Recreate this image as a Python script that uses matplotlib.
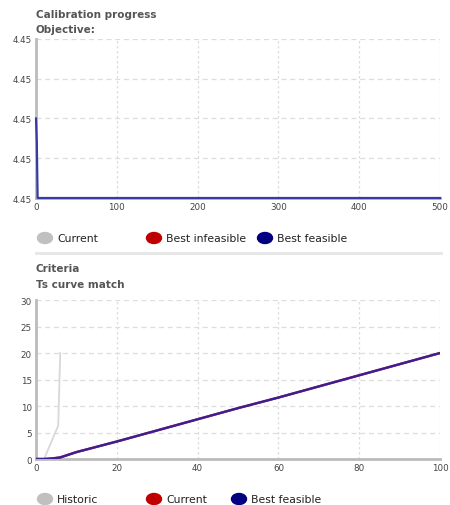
import matplotlib.pyplot as plt
from matplotlib.lines import Line2D
from matplotlib.patches import Ellipse
from matplotlib.ticker import FormatStrFormatter

# --- data ---
obj_iter = [0, 1, 2, 500]
obj_best_feasible = [4.4502, 4.45014, 4.4500, 4.4500]
obj_yticks = [4.4500, 4.4501, 4.4502, 4.4503, 4.4504]
obj_xticks = [0, 100, 200, 300, 400, 500]

hist_x = [2, 5.5, 6]
hist_y = [0, 6.3, 20]

crit_x = [0, 2, 4, 6, 8, 10, 15, 20, 30, 40, 50, 60, 70, 80, 90, 100]
crit_current = [0, 0, 0.1, 0.3, 0.8, 1.3, 2.3, 3.3, 5.4, 7.5, 9.6, 11.6, 13.7, 15.8, 17.9, 20]
crit_best_feasible = crit_current
crit_xticks = [0, 20, 40, 60, 80, 100]
crit_yticks = [0, 5, 10, 15, 20, 25, 30]

GRAY = "#c0c0c0"
RED = "#c00000"
NAVY = "#000080"
TXT = "#555555"

fig = plt.figure(figsize=(4.5, 5.06), dpi=100)


def style_axes(ax):
    for s in ["top", "right"]:
        ax.spines[s].set_visible(False)
    for s in ["left", "bottom"]:
        ax.spines[s].set_color("#bbbbbb")
        ax.spines[s].set_linewidth(2)
    ax.tick_params(length=0, labelsize=6.3, labelcolor="#444444", pad=3)
    ax.grid(axis="y", color="#dddddd", linestyle=(0, (4, 3)), lw=0.9)
    ax.grid(axis="x", color="#dddddd", linestyle=(0, (2, 2)), lw=0.9)
    ax.set_axisbelow(True)


# --- top: objective ---
ax1 = fig.add_axes([0.08, 0.6067, 0.898, 0.3143])
style_axes(ax1)
ax1.plot(obj_iter, obj_best_feasible, color="#3a3aa0", lw=1.6, clip_on=False, zorder=3)
ax1.set_xlim(0, 500)
ax1.set_ylim(obj_yticks[0], obj_yticks[-1])
ax1.set_xticks(obj_xticks)
ax1.set_yticks(obj_yticks)
ax1.yaxis.set_major_formatter(FormatStrFormatter("%.2f"))

fig.text(36 / 450, 1 - 15 / 506, "Calibration progress", fontsize=7.5,
         fontweight="bold", color=TXT, va="center")
fig.text(36 / 450, 1 - 30 / 506, "Objective:", fontsize=7.5,
         fontweight="bold", color=TXT, va="center")

# --- bottom: criteria ---
ax2 = fig.add_axes([0.08, 0.0909, 0.898, 0.3142])
style_axes(ax2)
ax2.plot(hist_x, hist_y, color="#d8d8d8", lw=1.3, zorder=2)
ax2.plot(crit_x, crit_current, color=RED, lw=1.7, zorder=3)
ax2.plot(crit_x, crit_best_feasible, color="#2424b0", lw=1.7, alpha=0.85, zorder=4)
ax2.set_xlim(0, 100)
ax2.set_ylim(0, 30)
ax2.set_xticks(crit_xticks)
ax2.set_yticks(crit_yticks)

fig.text(36 / 450, 1 - 269 / 506, "Criteria", fontsize=7.5,
         fontweight="bold", color=TXT, va="center")
fig.text(36 / 450, 1 - 285 / 506, "Ts curve match", fontsize=7.5,
         fontweight="bold", color=TXT, va="center")

# separator
fig.add_artist(Line2D([36 / 450, 441 / 450], [1 - 254 / 506] * 2,
                      color="#e6e6e6", lw=2))


# legends drawn as ellipse markers + text in figure coords
def legend_item(xm, y, color, label):
    fig.add_artist(Ellipse((xm / 450, 1 - y / 506), 15 / 450, 11 / 506,
                           transform=fig.transFigure, color=color))
    fig.text((xm + 12) / 450, 1 - y / 506, label, fontsize=7.8, color="#222222",
             va="center")


for xm, c, lab in [(45, GRAY, "Current"), (154, RED, "Best infeasible"),
                   (265, NAVY, "Best feasible")]:
    legend_item(xm, 239, c, lab)

for xm, c, lab in [(45, GRAY, "Historic"), (154, RED, "Current"),
                   (239, NAVY, "Best feasible")]:
    legend_item(xm, 500, c, lab)

fig.savefig("out.png", dpi=100)
